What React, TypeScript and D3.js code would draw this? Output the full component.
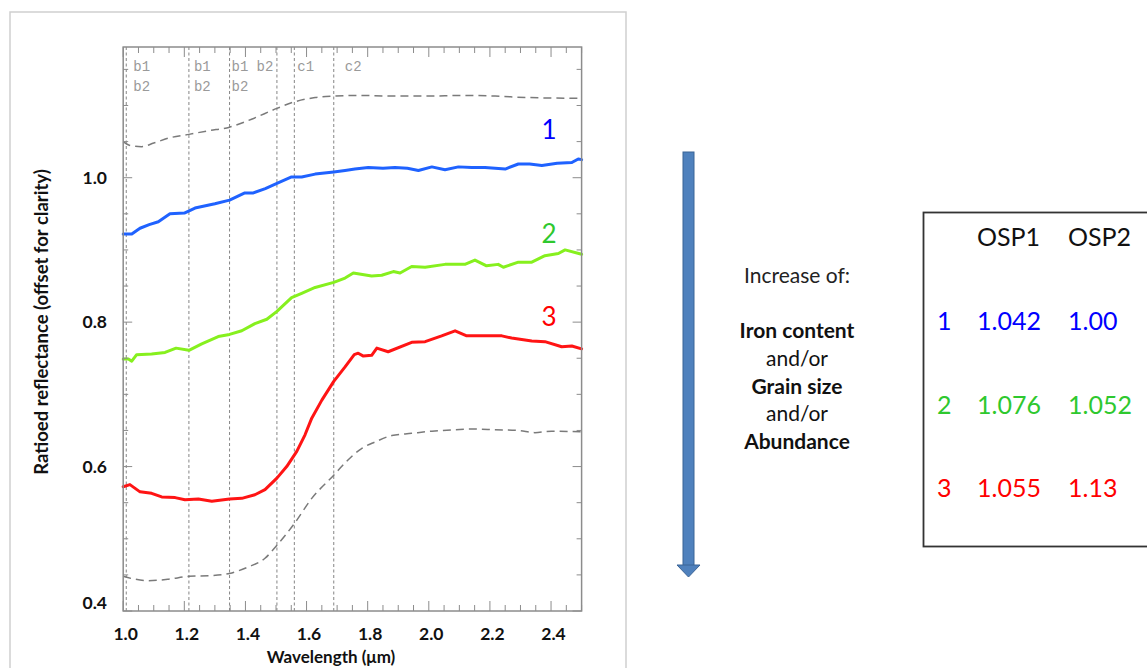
import React from "react";
import * as d3 from "d3";

// ---------- data ----------
const topDashed: [number, number][] = [
  [1.0, 1.05], [1.02, 1.045], [1.06, 1.043], [1.1, 1.048], [1.15, 1.055], [1.215, 1.06],
  [1.278, 1.065], [1.348, 1.07], [1.42, 1.081], [1.503, 1.096], [1.56, 1.105], [1.628, 1.111],
  [1.689, 1.113], [1.758, 1.114], [1.889, 1.113], [1.997, 1.113], [2.108, 1.114], [2.217, 1.113],
  [2.325, 1.111], [2.5, 1.11],
];

const series1: [number, number][] = [
  [1.0, 0.922], [1.028, 0.922], [1.055, 0.93], [1.085, 0.935], [1.115, 0.939], [1.153, 0.95],
  [1.2, 0.951], [1.235, 0.958], [1.3, 0.964], [1.348, 0.969], [1.398, 0.979], [1.426, 0.979],
  [1.465, 0.985], [1.503, 0.992], [1.551, 1.001], [1.584, 1.001], [1.628, 1.005], [1.689, 1.008],
  [1.726, 1.01], [1.758, 1.012], [1.802, 1.014], [1.85, 1.013], [1.889, 1.014], [1.93, 1.013],
  [1.966, 1.01], [2.01, 1.015], [2.053, 1.011], [2.097, 1.015], [2.14, 1.014], [2.184, 1.014],
  [2.25, 1.012], [2.293, 1.019], [2.33, 1.019], [2.37, 1.017], [2.42, 1.02], [2.468, 1.021],
  [2.489, 1.026], [2.5, 1.025],
];

const series2: [number, number][] = [
  [1.0, 0.749], [1.017, 0.749], [1.028, 0.746], [1.044, 0.755], [1.093, 0.756], [1.137, 0.758],
  [1.173, 0.764], [1.215, 0.761], [1.257, 0.77], [1.311, 0.78], [1.348, 0.783], [1.388, 0.788],
  [1.431, 0.798], [1.47, 0.804], [1.503, 0.815], [1.551, 0.834], [1.584, 0.84], [1.628, 0.848],
  [1.689, 0.855], [1.726, 0.861], [1.753, 0.868], [1.813, 0.864], [1.846, 0.865], [1.884, 0.87],
  [1.906, 0.868], [1.944, 0.877], [1.988, 0.876], [2.053, 0.88], [2.118, 0.88], [2.151, 0.886],
  [2.189, 0.878], [2.227, 0.88], [2.244, 0.876], [2.293, 0.883], [2.337, 0.883], [2.38, 0.892],
  [2.424, 0.895], [2.446, 0.9], [2.5, 0.894],
];

const series3: [number, number][] = [
  [1.0, 0.572], [1.022, 0.575], [1.055, 0.565], [1.093, 0.563], [1.126, 0.558], [1.17, 0.557],
  [1.202, 0.554], [1.246, 0.555], [1.29, 0.552], [1.348, 0.555], [1.388, 0.556], [1.431, 0.561],
  [1.464, 0.568], [1.503, 0.584], [1.535, 0.6], [1.568, 0.621], [1.595, 0.644], [1.617, 0.667],
  [1.65, 0.692], [1.689, 0.718], [1.726, 0.738], [1.756, 0.755], [1.769, 0.757], [1.786, 0.753],
  [1.813, 0.754], [1.83, 0.764], [1.867, 0.759], [1.944, 0.772], [1.988, 0.773], [2.042, 0.781],
  [2.086, 0.788], [2.124, 0.781], [2.184, 0.781], [2.239, 0.781], [2.271, 0.778], [2.337, 0.774],
  [2.38, 0.773], [2.435, 0.766], [2.468, 0.767], [2.5, 0.763],
];

const bottomDashed: [number, number][] = [
  [1.0, 0.448], [1.039, 0.444], [1.082, 0.442], [1.148, 0.444], [1.215, 0.448], [1.29, 0.449],
  [1.348, 0.452], [1.409, 0.461], [1.464, 0.473], [1.503, 0.491], [1.56, 0.521], [1.617, 0.556],
  [1.689, 0.588], [1.726, 0.605], [1.78, 0.625], [1.824, 0.634], [1.879, 0.643], [1.944, 0.646],
  [2.01, 0.649], [2.086, 0.651], [2.14, 0.652], [2.217, 0.651], [2.293, 0.65], [2.347, 0.647],
  [2.402, 0.649], [2.5, 0.648],
];

const bandLines = [1.01, 1.215, 1.348, 1.503, 1.56, 1.689];
const bandLabels = [
  { line: 0, dx: 7, row: 0, text: "b1" }, { line: 0, dx: 7, row: 1, text: "b2" },
  { line: 1, dx: 5, row: 0, text: "b1" }, { line: 1, dx: 5, row: 1, text: "b2" },
  { line: 2, dx: 2, row: 0, text: "b1" }, { line: 2, dx: 2, row: 1, text: "b2" },
  { line: 2, dx: 27, row: 0, text: "b2" },
  { line: 4, dx: 3, row: 0, text: "c1" },
  { line: 5, dx: 11, row: 0, text: "c2" },
];

const xTickLabels = ["1.0", "1.2", "1.4", "1.6", "1.8", "2.0", "2.2", "2.4"];
const yTickLabels = ["0.4", "0.6", "0.8", "1.0"];

const seriesNames = ["1", "2", "3"];
const lineColors = ["#1f62ff", "#86f01e", "#ff1414"];
const textColors = ["#0000ff", "#2ec82e", "#ff0000"];

const tableHeader = ["OSP1", "OSP2"];
const osp1 = ["1.042", "1.076", "1.055"];
const osp2 = ["1.00", "1.052", "1.13"];

const effectLines = [
  { text: "Iron content", bold: true }, { text: "and/or", bold: false },
  { text: "Grain size", bold: true }, { text: "and/or", bold: false },
  { text: "Abundance", bold: true },
];

// ---------- layout ----------
const W = 1147, H = 668;
const plot = { left: 123.2, right: 581.6, top: 47, bottom: 611 };
const FONT = "Lato, 'Open Sans', sans-serif";

export default function App() {
  const x = d3.scaleLinear().domain([1.0, 2.5]).range([plot.left, plot.right]);
  const y = d3.scaleLinear().domain([0.4, 1.181]).range([plot.bottom, plot.top]);

  const lineSmooth = d3.line<[number, number]>().x(d => x(d[0])).y(d => y(d[1])).curve(d3.curveMonotoneX);
  const lineRaw = d3.line<[number, number]>().x(d => x(d[0])).y(d => y(d[1])).curve(d3.curveLinear);

  const xMinor = x.ticks(30);
  const xMajor = x.ticks(8);
  const yMinor = y.ticks(16);
  const yMajorVals = yTickLabels.map(Number);
  const isYMajor = (v: number) => yMajorVals.some(m => Math.abs(m - v) < 1e-6);
  const isXMajor = (v: number) => xMajor.some(m => Math.abs(m - v) < 1e-6);

  const colored = [series1, series2, series3];
  const axisColor = "#8c8c8c";

  return (
    <svg width={W} height={H} style={{ position: "absolute", left: 0, top: 0, background: "#fff" }}>
      {/* outer frame */}
      <rect x={10} y={12} width={616} height={700} fill="none" stroke="#cfcfcf" strokeWidth={1.5} />

      {/* band vertical dashed lines */}
      {bandLines.map((b, i) => (
        <line key={"bl" + i} x1={x(b)} x2={x(b)} y1={plot.top} y2={plot.bottom}
          stroke="#666" strokeWidth={0.8} strokeDasharray="3,2.5" />
      ))}
      {bandLabels.map((l, i) => (
        <text key={"lab" + i} x={x(bandLines[l.line]) + l.dx} y={71 + l.row * 19.5}
          fontFamily="'Liberation Mono', 'DejaVu Sans Mono', monospace" fontSize={14} fill="#9a9a9a">
          {l.text}
        </text>
      ))}

      {/* gray dashed reference curves */}
      <path d={lineSmooth(topDashed) || ""} fill="none" stroke="#7a7a7a" strokeWidth={1.5} strokeDasharray="8,5" />
      <path d={lineSmooth(bottomDashed) || ""} fill="none" stroke="#7a7a7a" strokeWidth={1.5} strokeDasharray="8,5" />

      {/* coloured spectra */}
      {colored.map((s, i) => (
        <path key={"s" + i} d={lineRaw(s) || ""} fill="none" stroke={lineColors[i]} strokeWidth={3}
          strokeLinejoin="round" strokeLinecap="round" />
      ))}

      {/* series numbers */}
      {seriesNames.map((n, i) => (
        <text key={"n" + i} x={549} y={[139, 243, 326][i]} textAnchor="middle" fontFamily={FONT}
          fontSize={26} fill={textColors[i]}>{n}</text>
      ))}

      {/* plot frame */}
      <rect x={plot.left} y={plot.top} width={plot.right - plot.left} height={plot.bottom - plot.top}
        fill="none" stroke={axisColor} strokeWidth={1.5} />

      {/* x ticks (bottom & top, inward) */}
      {xMinor.map((v, i) => {
        const len = isXMajor(v) ? 10 : 6;
        return (
          <g key={"xt" + i}>
            <line x1={x(v)} x2={x(v)} y1={plot.bottom} y2={plot.bottom - len} stroke={axisColor} strokeWidth={1} />
            <line x1={x(v)} x2={x(v)} y1={plot.top} y2={plot.top + len} stroke={axisColor} strokeWidth={1} />
          </g>
        );
      })}
      {/* y ticks (left & right, inward) */}
      {yMinor.map((v, i) => {
        const len = isYMajor(v) ? 9 : 5;
        return (
          <g key={"yt" + i}>
            <line x1={plot.left} x2={plot.left + len} y1={y(v)} y2={y(v)} stroke={axisColor} strokeWidth={1} />
            <line x1={plot.right} x2={plot.right - len} y1={y(v)} y2={y(v)} stroke={axisColor} strokeWidth={1} />
          </g>
        );
      })}

      {/* tick labels */}
      {xTickLabels.map((t, i) => (
        <text key={"xl" + i} x={x(Number(t)) + 2.5} y={640} textAnchor="middle" fontFamily={FONT}
          fontWeight="bold" fontSize={17.5} fill="#111">{t}</text>
      ))}
      {yTickLabels.map((t, i) => (
        <text key={"yl" + i} x={107} y={y(Number(t)) + 6 - (i === 0 ? 8 : 0)} textAnchor="end" fontFamily={FONT}
          fontWeight="bold" fontSize={17.5} fill="#111">{t}</text>
      ))}

      {/* axis titles */}
      <text x={331} y={663} textAnchor="middle" fontFamily={FONT} fontWeight="bold" fontSize={17} fill="#111">
        Wavelength (μm)
      </text>
      <text transform="translate(48,322) rotate(-90)" textAnchor="middle" fontFamily={FONT}
        fontWeight="bold" fontSize={18.5} fill="#111">
        Ratioed reflectance (offset for clarity)
      </text>

      {/* arrow */}
      <rect x={683} y={152} width={11} height={414} fill="#4f81bd" stroke="#3b6496" strokeWidth={1} />
      <path d="M677,565 L700,565 L688.5,577 Z" fill="#4f81bd" stroke="#3b6496" strokeWidth={1} />

      {/* explanatory text */}
      <text x={797} y={283} textAnchor="middle" fontFamily={FONT} fontSize={21} fill="#222">Increase of:</text>
      {effectLines.map((l, i) => (
        <text key={"e" + i} x={797} y={338 + i * 27.8} textAnchor="middle" fontFamily={FONT}
          fontSize={21} fontWeight={l.bold ? "bold" : "normal"} fill="#111">{l.text}</text>
      ))}

      {/* table */}
      <rect x={923.5} y={212.5} width={240} height={334} fill="none" stroke="#333" strokeWidth={1.8} />
      {tableHeader.map((h, i) => (
        <text key={"th" + i} x={[977, 1068][i]} y={246} fontFamily={FONT} fontSize={25} fill="#111">{h}</text>
      ))}
      {seriesNames.map((n, i) => (
        <g key={"row" + i} fill={textColors[i]} fontFamily={FONT} fontSize={25}>
          <text x={937} y={330 + i * 83.5}>{n}</text>
          <text x={977} y={330 + i * 83.5}>{osp1[i]}</text>
          <text x={1068} y={330 + i * 83.5}>{osp2[i]}</text>
        </g>
      ))}
    </svg>
  );
}
